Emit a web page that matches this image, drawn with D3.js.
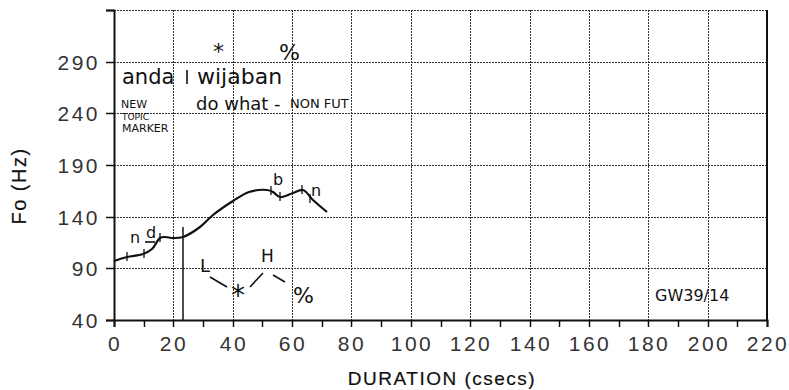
<!DOCTYPE html>
<html>
<head>
<meta charset="utf-8">
<script src="https://cdn.jsdelivr.net/npm/d3@7"></script>
<style>
  body { margin: 0; background: #fff; }
  .axis-label { font-family: 'Liberation Sans', Arial, sans-serif; fill: #111; }
  .tick-label { font-family: 'Liberation Sans', Arial, sans-serif; font-size: 21px; letter-spacing: 2.5px; fill: #333; }
  .hand { font-family: 'DejaVu Sans', sans-serif; fill: #111; }
</style>
</head>
<body>
<div id="chart"></div>
<script>
// pitch track (csecs, Hz)
const durations = [0, 4.3, 9.9, 12.7, 15.5, 17.2, 20, 23.4, 29, 33.4, 40.2, 45.5, 51.4, 53.5, 55.9, 60.4, 63.7, 67, 71.8];
const pitches   = [97, 100.7, 104, 109, 119, 120, 119, 120, 130, 141.6, 155, 164, 165.5, 164, 159, 162.6, 165.5, 156, 145];

// segment boundary marks on the trace
const markX  = [4.3, 10, 15.5, 53, 56, 63.5, 66];
const markHz = [100.7, 104, 119, 165, 159, 165.5, 157];

// long boundary line between anda / wijaban
const boundaryX = 23.4;
const boundaryHz = [130, 40];

const xTicks = d3.range(0, 221, 20);
const xMinorTicks = d3.range(0, 221, 10);
const yTicks = [40, 90, 140, 190, 240, 290];
const yGridTicks = [90, 140, 190, 240, 290, 340];

// handwritten notes: text, x (csecs), Hz, size
const noteText = ['anda', 'wijaban', '*', '%', 'NEW', 'TOPIC', 'MARKER', 'do what -', 'NON FUT',
                  'n', 'd', 'b', 'n', 'L', 'H', '*', '%', 'GW39/14'];
const noteX    = [2.7, 28, 33.4, 55.5, 2.2, 2.8, 2.8, 27.6, 59.3, 5.5, 10.8, 53.5, 66.5, 29, 49.5, 39.5, 60.3, 182.3];
const noteHz   = [268, 268, 293, 292, 245, 234, 222, 243, 245, 115, 119, 171, 160, 86, 96, 55, 56, 58.4];
const noteSize = [21, 22, 22, 22, 11, 9, 11, 18, 13, 16, 16, 16, 16, 18, 17, 28, 22, 16];

// handwritten strokes: [x1, Hz1, x2, Hz2]
const strokes = [
  [24.6, 282, 24.6, 268],
  [32.3, 81.6, 38.1, 71.9],
  [45.8, 71.9, 50.2, 85.5],
  [53.6, 83.5, 57.6, 76.8],
  [10.6, 115.5, 13.8, 115.5]
];

const width = 789, height = 390;
const margin = { top: 10, right: 22, bottom: 70, left: 114 };

const svg = d3.select('#chart').append('svg')
  .attr('width', width)
  .attr('height', height);

const x = d3.scaleLinear().domain([0, 220]).range([margin.left, width - margin.right]).interpolate(d3.interpolateRound);
const y = d3.scaleLinear().domain([40, 340]).range([height - margin.bottom, margin.top]).interpolate(d3.interpolateRound);

// dotted grid: each dot is its own little rect so it survives the render
const gridG = svg.append('g').attr('fill', '#333').attr('shape-rendering', 'crispEdges');
const vDots = [];
xTicks.slice(1, -1).forEach(t => {
  d3.range(y(340), y(40), 3).forEach(py => vDots.push([x(t), py]));
});
const hDots = [];
yGridTicks.forEach(t => {
  d3.range(x(0), x(220), 3).forEach(pxv => hDots.push([pxv, y(t)]));
});
gridG.selectAll('rect.v')
  .data(vDots)
  .enter().append('rect')
  .attr('x', d => d[0]).attr('y', d => d[1])
  .attr('width', 1).attr('height', 2);
gridG.selectAll('rect.h')
  .data(hDots)
  .enter().append('rect')
  .attr('x', d => d[0]).attr('y', d => d[1])
  .attr('width', 2).attr('height', 1);

// right border
svg.append('line')
  .attr('x1', x(220)).attr('x2', x(220)).attr('y1', y(340)).attr('y2', y(40))
  .attr('stroke', '#111').attr('stroke-width', 2);

// axes
const xAxis = svg.append('g')
  .attr('transform', `translate(0, ${y(40)})`)
  .call(d3.axisBottom(x).tickValues(xMinorTicks).tickSize(7).tickFormat(''));
const yAxis = svg.append('g')
  .attr('transform', `translate(${x(0)}, 0)`)
  .call(d3.axisLeft(y).tickValues(yTicks.concat([340])).tickSize(8).tickFormat(''));
[xAxis, yAxis].forEach(a => {
  a.select('.domain').attr('stroke', '#111').attr('stroke-width', 2);
  a.selectAll('.tick line').attr('stroke', '#111').attr('stroke-width', 1.5);
});

svg.append('g').selectAll('text')
  .data(xTicks)
  .enter().append('text')
  .attr('class', 'tick-label')
  .attr('x', d => x(d) + 1)
  .attr('y', y(40) + 31)
  .attr('text-anchor', 'middle')
  .text(d => d);

svg.append('g').selectAll('text')
  .data(yTicks)
  .enter().append('text')
  .attr('class', 'tick-label')
  .attr('x', x(0) - 14)
  .attr('y', d => y(d) + 8)
  .attr('text-anchor', 'end')
  .text(d => d);

svg.append('text')
  .attr('class', 'axis-label')
  .attr('x', 442).attr('y', 385)
  .attr('text-anchor', 'middle')
  .attr('font-size', 19)
  .attr('letter-spacing', 1.5)
  .attr('stroke', '#111').attr('stroke-width', 0.2)
  .text('DURATION (csecs)');

svg.append('text')
  .attr('class', 'axis-label')
  .attr('transform', 'translate(26, 186) rotate(-90)')
  .attr('text-anchor', 'middle')
  .attr('font-size', 20)
  .attr('letter-spacing', 1.5)
  .attr('stroke', '#111').attr('stroke-width', 0.2)
  .text('Fo (Hz)');

// pitch trace
const track = durations.map((d, i) => [d, pitches[i]]);
svg.append('path')
  .datum(track)
  .attr('fill', 'none')
  .attr('stroke', '#111')
  .attr('stroke-width', 2.2)
  .attr('d', d3.line().x(d => x(d[0])).y(d => y(d[1])).curve(d3.curveCatmullRom));

svg.append('g').selectAll('line')
  .data(markX)
  .enter().append('line')
  .attr('x1', d => x(d)).attr('x2', d => x(d))
  .attr('y1', (d, i) => y(markHz[i]) - 5)
  .attr('y2', (d, i) => y(markHz[i]) + 4)
  .attr('stroke', '#111').attr('stroke-width', 1.3);

svg.append('line')
  .attr('x1', x(boundaryX)).attr('x2', x(boundaryX))
  .attr('y1', y(boundaryHz[0])).attr('y2', y(boundaryHz[1]))
  .attr('stroke', '#111').attr('stroke-width', 1.5);

// annotations
svg.append('g').selectAll('text')
  .data(noteText)
  .enter().append('text')
  .attr('class', 'hand')
  .attr('x', (d, i) => x(noteX[i]))
  .attr('y', (d, i) => y(noteHz[i]))
  .attr('font-size', (d, i) => noteSize[i])
  .text(d => d);

svg.append('g').selectAll('line')
  .data(strokes)
  .enter().append('line')
  .attr('x1', d => x(d[0])).attr('y1', d => y(d[1]))
  .attr('x2', d => x(d[2])).attr('y2', d => y(d[3]))
  .attr('stroke', '#111').attr('stroke-width', 1.6);
</script>
</body>
</html>
